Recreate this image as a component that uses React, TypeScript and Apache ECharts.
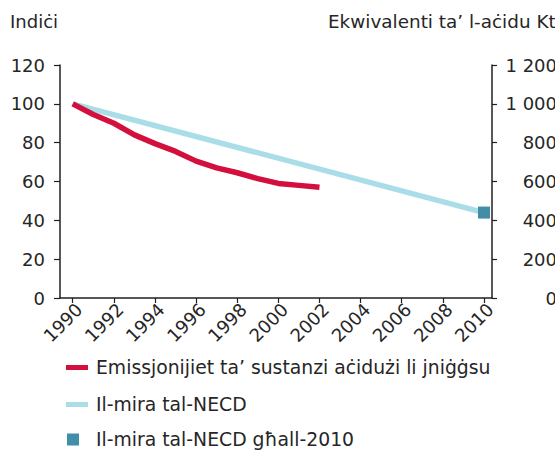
import React, { useEffect, useRef } from "react";
import * as echarts from "echarts";

const emissionYears = [1990, 1991, 1992, 1993, 1994, 1995, 1996, 1997, 1998, 1999, 2000, 2001, 2002];
const emissionValues = [100, 94.5, 90, 84, 79.5, 75.5, 70.5, 67, 64.5, 61.5, 59, 58, 57];
const targetYears = [1990, 2010];
const targetValues = [100, 44];
const target2010Year = [2010];
const target2010Value = [44];
const xTickYears = [1990, 1992, 1994, 1996, 1998, 2000, 2002, 2004, 2006, 2008, 2010];

const seriesNames = [
  "Emissjonijiet ta’ sustanzi aċidużi li jniġġsu",
  "Il-mira tal-NECD",
  "Il-mira tal-NECD għall-2010",
];
const leftTitle = "Indiċi";
const rightTitle = "Ekwivalenti ta’ l-aċidu Kt";

const FONT = "'DejaVu Sans', Verdana, sans-serif";
const TEXT = "#262626";
const AXIS = "#231f20";
const RED = "#d20f3d";
const LIGHT = "#a9dde7";
const SQUARE = "#428da8";

export default function App() {
  const ref = useRef<HTMLDivElement>(null);
  useEffect(() => {
    if (!ref.current) return;
    const chart = echarts.init(ref.current, undefined, { renderer: "svg" });
    const fmtSpace = (v: number) => String(v).replace(/\B(?=(\d{3})+(?!\d))/g, " ");
    const legendBase = {
      orient: "vertical",
      selectedMode: false,
      itemGap: 0,
      textStyle: { fontFamily: FONT, fontSize: 18.8, color: TEXT },
    };
    chart.setOption({
      animation: false,
      textStyle: { fontFamily: FONT },
      grid: {
        left: 60,
        top: 65,
        width: 432,
        height: 233,
        containLabel: false,
        outerBoundsMode: "none",
      },
      graphic: [
        {
          type: "text",
          left: 10,
          top: 12,
          style: { text: leftTitle, fontFamily: FONT, fontSize: 18, fill: TEXT },
        },
        {
          type: "text",
          left: 328,
          top: 12,
          style: { text: rightTitle, fontFamily: FONT, fontSize: 18.4, fill: TEXT },
        },
      ],
      legend: [
        {
          ...legendBase,
          left: 61,
          top: 353,
          itemWidth: 22,
          itemHeight: 5,
          data: [{ name: seriesNames[0], icon: "rect" }],
          textStyle: { ...legendBase.textStyle, padding: [0, 0, 0, 3] },
        },
        {
          ...legendBase,
          left: 61,
          top: 390,
          itemWidth: 22,
          itemHeight: 5,
          data: [{ name: seriesNames[1], icon: "rect" }],
          textStyle: { ...legendBase.textStyle, padding: [0, 0, 0, 3] },
        },
        {
          ...legendBase,
          left: 62,
          top: 425,
          itemWidth: 12,
          itemHeight: 12,
          data: [{ name: seriesNames[2], icon: "rect" }],
          textStyle: { ...legendBase.textStyle, padding: [0, 0, 0, 12] },
        },
      ],
      xAxis: {
        type: "value",
        min: 1989.38,
        max: 2010.39,
        splitLine: { show: false },
        axisLine: { show: true, lineStyle: { color: AXIS, width: 1.5 } },
        axisTick: { show: true, length: 5, customValues: xTickYears, lineStyle: { color: AXIS, width: 1.2 } },
        axisLabel: {
          customValues: xTickYears,
          formatter: (v: number) => String(v),
          rotate: 45,
          verticalAlign: "top",
          margin: 2,
          fontSize: 18,
          fontFamily: FONT,
          color: TEXT,
          showMinLabel: true,
          showMaxLabel: true,
          hideOverlap: false,
        },
      },
      yAxis: [
        {
          type: "value",
          min: 0,
          max: 120,
          interval: 20,
          position: "left",
          splitLine: { show: false },
          axisLine: { show: true, lineStyle: { color: AXIS, width: 1.5 } },
          axisTick: { show: true, length: 6, lineStyle: { color: AXIS, width: 1.2 } },
          axisLabel: { margin: 15, fontSize: 18, fontFamily: FONT, color: TEXT },
        },
        {
          type: "value",
          min: 0,
          max: 1200,
          interval: 200,
          position: "right",
          splitLine: { show: false },
          axisLine: { show: true, lineStyle: { color: AXIS, width: 1.5 } },
          axisTick: { show: true, length: 5, lineStyle: { color: AXIS, width: 1.2 } },
          axisLabel: {
            margin: 65,
            align: "right",
            fontSize: 18,
            fontFamily: FONT,
            color: TEXT,
            formatter: (v: number) => fmtSpace(v),
          },
        },
      ],
      series: [
        {
          name: seriesNames[1],
          type: "line",
          yAxisIndex: 0,
          symbol: "none",
          color: LIGHT,
          lineStyle: { color: LIGHT, width: 5.5 },
          data: targetYears.map((y, i) => [y, targetValues[i]]),
          z: 2,
        },
        {
          name: seriesNames[0],
          type: "line",
          yAxisIndex: 0,
          symbol: "none",
          color: RED,
          lineStyle: { color: RED, width: 5.5, cap: "butt", join: "round" },
          data: emissionYears.map((y, i) => [y, emissionValues[i]]),
          z: 3,
        },
        {
          name: seriesNames[2],
          type: "scatter",
          yAxisIndex: 0,
          symbol: "rect",
          symbolSize: 12,
          color: SQUARE,
          itemStyle: { color: SQUARE, opacity: 1 },
          data: target2010Year.map((y, i) => [y, target2010Value[i]]),
          z: 4,
        },
      ],
    });
    return () => chart.dispose();
  }, []);
  return (
    <div
      ref={ref}
      style={{ position: "fixed", left: 0, top: 0, width: 555, height: 451, background: "#fff" }}
    />
  );
}
